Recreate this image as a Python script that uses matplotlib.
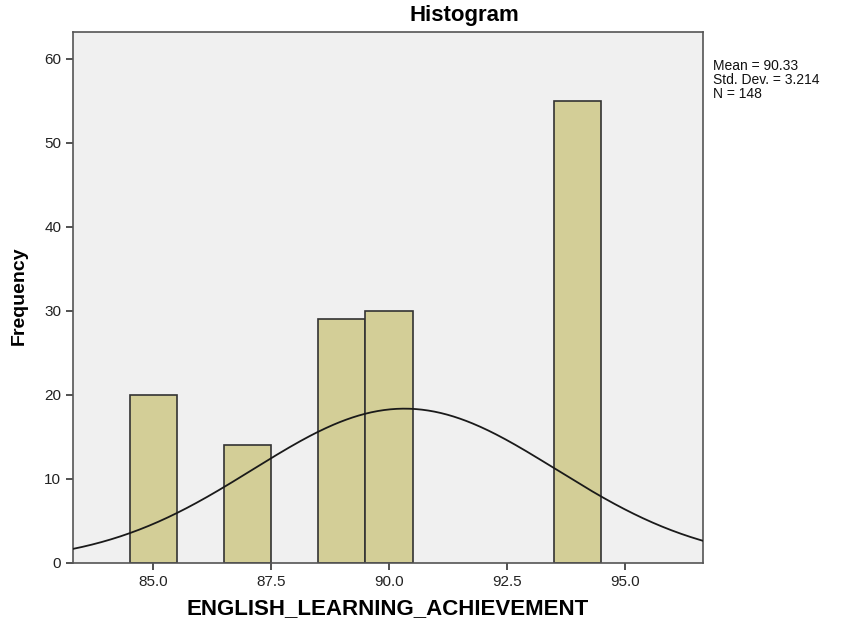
import numpy as np
import matplotlib
matplotlib.use('Agg')
import matplotlib.pyplot as plt

plt.rcParams['font.family'] = ['Liberation Sans', 'DejaVu Sans']

# histogram bins (centre, count), bin width 1
bin_centers = [85, 87, 89, 90, 94]
counts = [20, 14, 29, 30, 55]
bin_width = 1.0
mean = 90.33
std = 3.214
n = 148
xticks = [85.0, 87.5, 90.0, 92.5, 95.0]
yticks = [0, 10, 20, 30, 40, 50, 60]

fig = plt.figure(figsize=(8.43, 6.26), dpi=100)
ax = fig.add_axes([73/843, 1-563/626, (703-73)/843, (563-32)/626])
ax.set_facecolor('#F0F0F0')

ax.bar(bin_centers, counts, width=bin_width, color='#D3CE97',
       edgecolor='#333333', linewidth=1.2, zorder=2)

# normal curve scaled to the histogram
xs = np.linspace(83.3, 96.66, 400)
ys = n * bin_width / (std*np.sqrt(2*np.pi)) * np.exp(-0.5*((xs-mean)/std)**2)
ax.plot(xs, ys, color='#1a1a1a', linewidth=1.3, zorder=3)

ax.set_xlim(83.3, 96.66)
ax.set_ylim(0, 63.2)
ax.set_xticks(xticks)
ax.set_xticklabels(['%.1f' % t for t in xticks])
ax.set_yticks(yticks)
ax.tick_params(axis='both', direction='out', length=5, width=1.2,
               labelsize=11, color='#333333', labelcolor='#222222')
for s in ax.spines.values():
    s.set_color('#555555')
    s.set_linewidth(1.2)

fig.text(464/843, 1-15/626, 'Histogram', fontsize=16, fontweight='bold',
         ha='center', va='center')
fig.text(388/843, 1-609/626, 'ENGLISH_LEARNING_ACHIEVEMENT', fontsize=16,
         fontweight='bold', ha='center', va='center')
fig.text(19/843, 1-296/626, 'Frequency', fontsize=14, fontweight='bold',
         rotation=90, ha='center', va='center')

fig.text(713/843, 1-59/626, 'Mean = %.2f\nStd. Dev. = %.3f\nN = %d' % (mean, std, n),
         fontsize=10, va='top', ha='left', linespacing=1.0, color='#111111')

fig.savefig('out.png', dpi=100)
